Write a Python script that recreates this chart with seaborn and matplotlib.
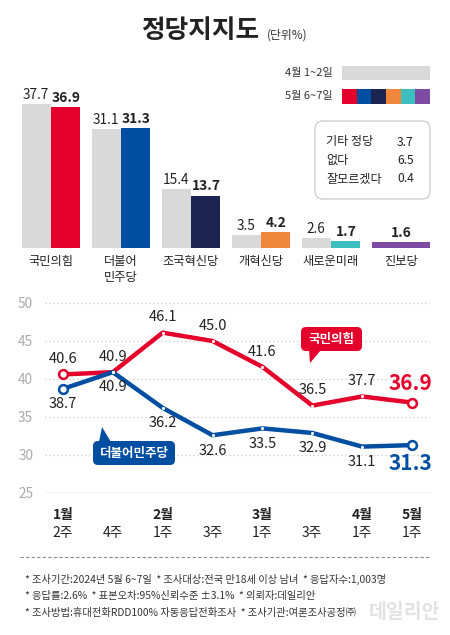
import numpy as np
import pandas as pd
import matplotlib
matplotlib.use('Agg')
import matplotlib.pyplot as plt
import seaborn as sns
from matplotlib.patches import FancyBboxPatch, Rectangle, Polygon

# ---------------- data ----------------
parties = ['국민의힘', '더불어\n민주당', '조국혁신당', '개혁신당', '새로운미래', '진보당']
prev_vals = [37.7, 31.1, 15.4, 3.5, 2.6, None]
curr_vals = [36.9, 31.3, 13.7, 4.2, 1.7, 1.6]
party_colors = ['#E4002B', '#004EA2', '#1C2452', '#F0873A', '#3DBFBF', '#7E4BA3']
prev_label = '4월 1~2일'
curr_label = '5월 6~7일'
other_labels = ['기타 정당', '없다', '잘모르겠다']
other_vals = [3.7, 6.5, 0.4]

month_labels = ['1월', '', '2월', '', '3월', '', '4월', '5월']
week_labels = ['2주', '4주', '1주', '3주', '1주', '3주', '1주', '1주']
ppp_vals = [40.6, 40.9, 46.1, 45.0, 41.6, 36.5, 37.7, 36.9]
dem_vals = [38.7, 40.9, 36.2, 32.6, 33.5, 32.9, 31.1, 31.3]
line_names = ['국민의힘', '더불어민주당']
y_ticks = [25, 30, 35, 40, 45, 50]

footnotes = [
    '* 조사기간:2024년 5월 6~7일  * 조사대상:전국 만18세 이상 남녀  * 응답자수:1,003명',
    '* 응답률:2.6%  * 표본오차:95%신뢰수준 ±3.1%  * 의뢰자:데일리안',
    '* 조사방법:휴대전화RDD100% 자동응답전화조사  * 조사기관:여론조사공정㈜',
]

GRAY = '#D9D9D9'
RED = party_colors[0]
BLUE = party_colors[1]
DARK = '#222222'

sns.set_style('white')
plt.rcParams['font.family'] = ['Noto Sans CJK KR', 'DejaVu Sans']

W, H = 450, 635
fig = plt.figure(figsize=(W / 100, H / 100), dpi=100)
fig.patch.set_facecolor('white')


def px_axes(x0, y0, x1, y1):
    return [x0 / W, 1 - y1 / H, (x1 - x0) / W, (y1 - y0) / H]


# ---------------- bar chart ----------------
ax1 = fig.add_axes(px_axes(16, 80, 436, 248))
rows, single = [], []
for p, a, b in zip(parties, prev_vals, curr_vals):
    if a is None:
        single.append((p, curr_label, b))
    else:
        rows.append((p, prev_label, a))
        rows.append((p, curr_label, b))
df_pair = pd.DataFrame(rows, columns=['party', 'period', 'value'])
df_single = pd.DataFrame(single, columns=['party', 'period', 'value'])

sns.barplot(data=df_pair, x='party', y='value', hue='period', order=parties,
            hue_order=[prev_label, curr_label], palette=[GRAY, GRAY],
            width=0.82, linewidth=0, saturation=1, errorbar=None,
            legend=False, ax=ax1)
prev_cont, curr_cont = ax1.containers[0], ax1.containers[1]
for bar in curr_cont:
    idx = int(round(bar.get_x() + bar.get_width() / 2))
    bar.set_facecolor(party_colors[idx])
for bar in prev_cont:
    ax1.annotate(f'{bar.get_height():.1f}', (bar.get_x() + bar.get_width() / 2, bar.get_height()),
                 xytext=(-0.5, 1.5), textcoords='offset points', ha='center', va='bottom',
                 fontsize=9.8, color=DARK)
for bar in curr_cont:
    ax1.annotate(f'{bar.get_height():.1f}', (bar.get_x() + bar.get_width() / 2, bar.get_height()),
                 xytext=(0.5, 1.5), textcoords='offset points', ha='center', va='bottom',
                 fontsize=10, color=DARK, fontweight='bold')

sns.barplot(data=df_single, x='party', y='value', order=parties, color=party_colors[5],
            width=0.82, linewidth=0, saturation=1, errorbar=None, ax=ax1)
single_cont = ax1.containers[-1]
for bar in single_cont:
    ax1.annotate(f'{bar.get_height():.1f}', (bar.get_x() + bar.get_width() / 2, bar.get_height()),
                 xytext=(0, 1.5), textcoords='offset points', ha='center', va='bottom',
                 fontsize=10, color=DARK, fontweight='bold')

for i, p in enumerate(parties):
    ax1.annotate(p, (i, 0), xytext=(0, -5), textcoords='offset points', ha='center', va='top',
                 fontsize=8.8, color=DARK, linespacing=1.35)
ax1.set_xlim(-0.5, 5.5)
ax1.set_ylim(0, 168 / 3.83)
ax1.axis('off')

# ---------------- line chart ----------------
ax2 = fig.add_axes(px_axes(45, 290, 430, 493))
n = len(ppp_vals)
df_line = pd.DataFrame({
    'idx': list(range(n)) * 2,
    'value': ppp_vals + dem_vals,
    'party': [line_names[0]] * n + [line_names[1]] * n,
})
sns.lineplot(data=df_line, x='idx', y='value', hue='party', hue_order=line_names,
             palette=[RED, BLUE], linewidth=3.2, legend=False, sort=False, ax=ax2, zorder=3)

for vals, col, sign in [(ppp_vals, RED, 1), (dem_vals, BLUE, -1)]:
    xs = np.arange(n)
    ax2.scatter(xs[1:-1], vals[1:-1], s=5, color='white', linewidths=0, zorder=5)
    ax2.scatter([xs[0], xs[-1]], [vals[0], vals[-1]], s=40, facecolor='white',
                edgecolor=col, linewidths=1.8, zorder=6)
    for i, v in enumerate(vals[:-1]):
        ax2.annotate(f'{v:.1f}', (i, v), xytext=(0, sign * 11), textcoords='offset points',
                     ha='center', va='center', fontsize=10.5, color=DARK)
    ax2.annotate(f'{vals[-1]:.1f}', (n - 1, vals[-1]), xytext=(-1, sign * 13.5),
                 textcoords='offset points', ha='center', va='center', fontsize=15,
                 fontweight='bold', color=col)

for y in y_ticks[1:]:
    ax2.axhline(y, color='#c8c8c8', lw=0.9, ls=(0, (1, 2.2)), zorder=0)
ax2.axhline(y_ticks[0], color='#bdbdbd', lw=1.0, zorder=1)

ax2.set_xlim(-0.36, 7.36)
ax2.set_ylim(25, 25 + 203 / 7.6)
ax2.set_yticks(y_ticks)
ax2.set_yticklabels([str(t) for t in y_ticks])
ax2.tick_params(axis='y', length=0, pad=8.5, labelsize=9.8, labelcolor='#ababab')
ax2.set_xticks(range(n))
ax2.set_xticklabels([''] * n)
ax2.tick_params(axis='x', length=5, width=0.9, color='#bdbdbd', direction='out', pad=0)
for s in ax2.spines.values():
    s.set_visible(False)
ax2.set_xlabel('')
ax2.set_ylabel('')
for i, (m, w) in enumerate(zip(month_labels, week_labels)):
    if m:
        ax2.annotate(m, (i, 0), xycoords=('data', 'axes fraction'), xytext=(0, -15.8),
                     textcoords='offset points', ha='center', va='center', fontsize=10,
                     fontweight='bold', color=DARK)
    ax2.annotate(w, (i, 0), xycoords=('data', 'axes fraction'), xytext=(0, -28.8),
                 textcoords='offset points', ha='center', va='center', fontsize=10,
                 color=DARK)

# ---------------- overlay (decorations, text) ----------------
ax0 = fig.add_axes([0, 0, 1, 1])
ax0.set_xlim(0, W)
ax0.set_ylim(H, 0)
ax0.axis('off')
ax0.patch.set_alpha(0)

ax0.text(200, 31, '정당지지도', ha='center', va='center', fontsize=18.5, fontweight='bold', color=DARK)
ax0.text(267, 35, '(단위%)', ha='left', va='center', fontsize=8.5, color='#333333')

# legend
ax0.text(333, 73, prev_label, ha='right', va='center', fontsize=8, color='#333333', style='italic')
ax0.add_patch(Rectangle((342, 66), 88, 14, fc=GRAY, ec='none'))
ax0.text(333, 96, curr_label, ha='right', va='center', fontsize=8, color='#333333', style='italic')
sw = 88 / len(party_colors)
for k, c in enumerate(party_colors):
    ax0.add_patch(Rectangle((342 + k * sw, 89), sw, 15, fc=c, ec='none'))

# info box
ax0.add_patch(FancyBboxPatch((315, 121), 115, 78, boxstyle='round,pad=0,rounding_size=8',
                             fc='white', ec='#cfcfcf', lw=1))
for k, (lab, v) in enumerate(zip(other_labels, other_vals)):
    yy = 142 + k * 18.5
    ax0.text(326, yy, lab, ha='left', va='center', fontsize=8.7, color=DARK)
    ax0.text(397, yy, f'{v:.1f}', ha='left', va='center', fontsize=8.7, color=DARK)

# callouts
ax0.add_patch(FancyBboxPatch((301, 327), 61, 24, boxstyle='round,pad=0,rounding_size=5',
                             fc=RED, ec='none', zorder=5))
ax0.add_patch(Polygon([(309, 350), (321, 350), (310, 363)], closed=True, fc=RED, ec='none', zorder=5))
ax0.text(331.5, 339, line_names[0], ha='center', va='center', fontsize=9, fontweight='bold',
         color='white', zorder=6)
ax0.add_patch(FancyBboxPatch((93, 441), 82, 24, boxstyle='round,pad=0,rounding_size=5',
                             fc=BLUE, ec='none', zorder=5))
ax0.add_patch(Polygon([(99, 442), (111, 442), (102, 427)], closed=True, fc=BLUE, ec='none', zorder=5))
ax0.text(134, 453, line_names[1], ha='center', va='center', fontsize=9, fontweight='bold',
         color='white', zorder=6)

# separator and footnotes
ax0.plot([20, 430], [557, 557], color='#8a8a8a', lw=0.8, ls=(0, (3, 2)))
for k, t in enumerate(footnotes):
    ax0.text(25, 579 + k * 17, t, ha='left', va='center', fontsize=7.4, color='#333333')
ax0.text(440, 612, '데일리안', ha='right', va='center', fontsize=14, fontweight='bold', color='#e2e2e2')

fig.savefig('out.png', dpi=100, facecolor='white')
